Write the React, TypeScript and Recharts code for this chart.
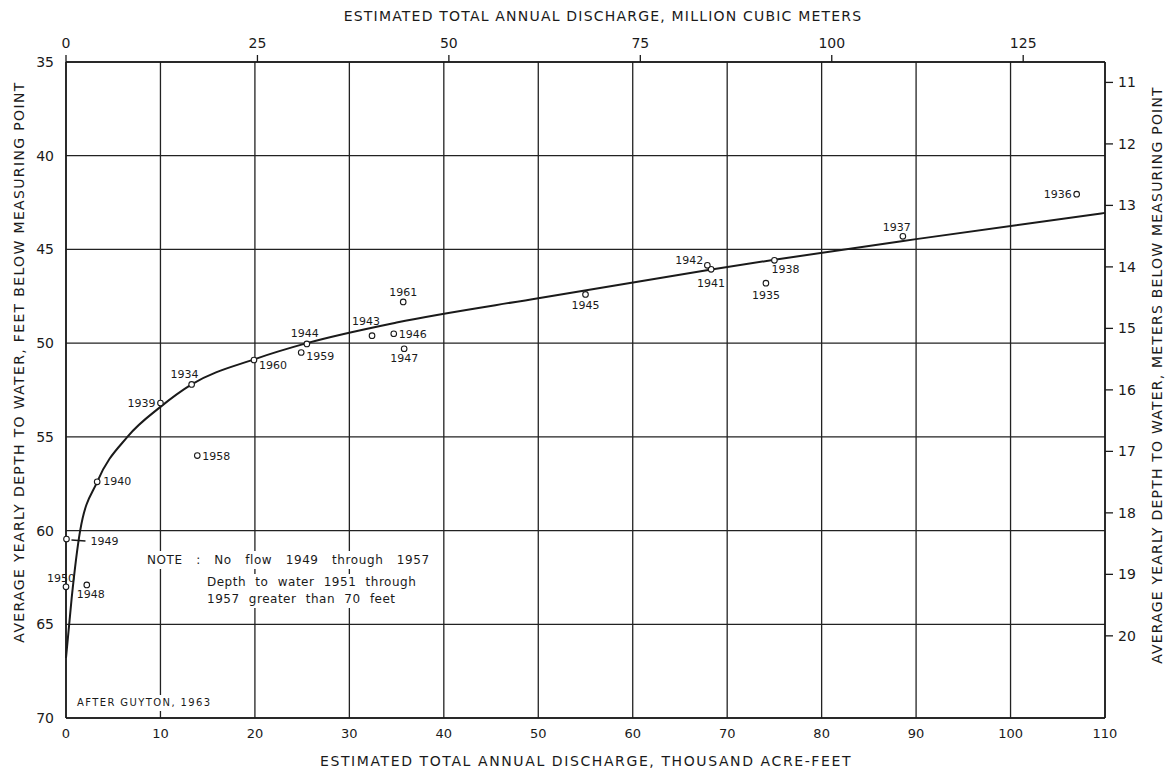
import React from 'react';
import { ScatterChart, Scatter, XAxis, YAxis, CartesianGrid } from 'recharts';

// thousand acre-feet -> million m3, feet -> meters
const KAF_TO_MCM = 1.23348;
const FT_PER_M = 3.28084;

const YEARS = [1934, 1935, 1936, 1937, 1938, 1939, 1940, 1941, 1942, 1943, 1944, 1945, 1946, 1947, 1948, 1949, 1950, 1958, 1959, 1960, 1961];
const DISCHARGE = [13.3, 74.1, 107.0, 88.6, 75.0, 10.0, 3.3, 68.3, 67.9, 32.4, 25.5, 55.0, 34.7, 35.8, 2.2, 0.05, 0.0, 13.9, 24.9, 19.9, 35.7];
const DEPTH = [52.2, 46.8, 42.05, 44.3, 45.58, 53.2, 57.4, 46.06, 45.85, 49.6, 50.04, 47.4, 49.5, 50.3, 62.9, 60.45, 63.0, 56.0, 50.5, 50.9, 47.8];

const CURVE_X = [0, 0.6, 1.5, 3.3, 6.5, 10, 13.3, 20, 25.5, 35, 50, 68, 75, 90, 110];
const CURVE_Y = [66.8, 63.6, 60.0, 57.4, 55.0, 53.4, 52.2, 50.85, 50.0, 48.9, 47.6, 46.1, 45.55, 44.45, 43.05];

const BOTTOM_TICKS = [0, 10, 20, 30, 40, 50, 60, 70, 80, 90, 100, 110];
const TOP_TICKS = [0, 25, 50, 75, 100, 125];
const FEET_TICKS = [35, 40, 45, 50, 55, 60, 65, 70];
const METER_TICKS = [11, 12, 13, 14, 15, 16, 17, 18, 19, 20];

// label placement around each point marker (px from circle centre)
const LABEL_OFFSET: Record<number, [number, number]> = {
  1934: [-7, -10], 1935: [0, 12], 1936: [-19, 0], 1937: [-6, -9], 1938: [11, 9],
  1939: [-19, 0], 1940: [20, 0], 1941: [0, 14], 1942: [-18, -5], 1943: [-6, -14],
  1944: [-2, -10], 1945: [0, 11], 1946: [19, 1], 1947: [0, 10], 1948: [4, 10],
  1949: [38, 2], 1950: [-5, -8], 1958: [19, 1], 1959: [19, 4], 1960: [19, 5], 1961: [0, -9],
};

const points = YEARS.map((year, i) => ({ year, x: DISCHARGE[i], y: DEPTH[i] }));
const curve = CURVE_X.map((x, i) => ({ x, y: CURVE_Y[i] }));
// same observations in metric units, only used to hook up the top / right axes
const metricPoints = YEARS.map((year, i) => ({ year, x: DISCHARGE[i] * KAF_TO_MCM, y: DEPTH[i] / FT_PER_M }));

const FONT = '"DejaVu Sans", sans-serif';
const INK = '#1a1a1a';

const PointMark = (props: any) => {
  const { cx, cy, payload } = props;
  const [dx, dy] = LABEL_OFFSET[payload.year] || [0, -10];
  return (
    <g>
      {payload.year === 1949 && (
        <line x1={cx + 5} y1={cy + 1} x2={cx + 19} y2={cy + 2} stroke={INK} strokeWidth={1.4} />
      )}
      <circle cx={cx} cy={cy} r={2.8} fill="#fff" stroke={INK} strokeWidth={1.1} />
      <text
        x={cx + dx}
        y={cy + dy}
        textAnchor="middle"
        dominantBaseline="central"
        fontSize={11}
        fontFamily={FONT}
        fill={INK}
      >
        {payload.year}
      </text>
    </g>
  );
};

const NoMark = () => <g />;

const titleStyle: React.CSSProperties = {
  position: 'absolute',
  fontFamily: FONT,
  fontSize: 14,
  color: INK,
  whiteSpace: 'nowrap',
};

const boxText: React.CSSProperties = {
  position: 'absolute',
  fontFamily: FONT,
  fontSize: 12,
  color: INK,
  background: '#fff',
  whiteSpace: 'nowrap',
  padding: '0 2px',
};

export default function App() {
  return (
    <div style={{ position: 'absolute', left: 0, top: 0, width: 1167, height: 769, background: '#fff' }}>
      <ScatterChart width={1167} height={769} margin={{ top: 32, right: 12, bottom: 21, left: 16 }}>
        <CartesianGrid xAxisId="bottom" yAxisId="left" stroke="#222" strokeWidth={1.3} />
        <XAxis
          xAxisId="bottom"
          dataKey="x"
          type="number"
          orientation="bottom"
          domain={[0, 110]}
          ticks={BOTTOM_TICKS}
          height={30}
          tickLine={false}
          tickMargin={5}
          axisLine={{ stroke: INK, strokeWidth: 1.6 }}
          tick={{ fontSize: 13, fontFamily: FONT, fill: INK }}
        />
        <XAxis
          xAxisId="top"
          dataKey="x"
          type="number"
          orientation="top"
          domain={[0, 110 * KAF_TO_MCM]}
          ticks={TOP_TICKS}
          height={30}
          tickSize={7}
          tickMargin={7}
          tickLine={{ stroke: INK, strokeWidth: 1.3 }}
          axisLine={{ stroke: INK, strokeWidth: 1.6 }}
          tick={{ fontSize: 14, fontFamily: FONT, fill: INK }}
        />
        <YAxis
          yAxisId="left"
          dataKey="y"
          type="number"
          domain={[35, 70]}
          ticks={FEET_TICKS}
          reversed
          width={50}
          tickLine={false}
          tickMargin={6}
          axisLine={{ stroke: INK, strokeWidth: 1.6 }}
          tick={{ fontSize: 14, fontFamily: FONT, fill: INK }}
        />
        <YAxis
          yAxisId="right"
          dataKey="y"
          type="number"
          orientation="right"
          domain={[35 / FT_PER_M, 70 / FT_PER_M]}
          ticks={METER_TICKS}
          reversed
          width={50}
          tickSize={8}
          tickMargin={5}
          tickLine={{ stroke: INK, strokeWidth: 1.3 }}
          axisLine={{ stroke: INK, strokeWidth: 1.6 }}
          tick={{ fontSize: 14, fontFamily: FONT, fill: INK }}
        />
        <Scatter
          xAxisId="top"
          yAxisId="right"
          data={metricPoints}
          shape={NoMark}
          isAnimationActive={false}
        />
        <Scatter
          xAxisId="bottom"
          yAxisId="left"
          data={curve}
          line={{ stroke: INK, strokeWidth: 2 }}
          lineType="joint"
          lineJointType="monotoneX"
          shape={NoMark}
          isAnimationActive={false}
        />
        <Scatter
          xAxisId="bottom"
          yAxisId="left"
          data={points}
          shape={PointMark}
          isAnimationActive={false}
        />
      </ScatterChart>

      <div style={{ ...titleStyle, letterSpacing: 1.2, left: 603, top: 16, transform: 'translate(-50%, -50%)' }}>
        ESTIMATED TOTAL ANNUAL DISCHARGE, MILLION CUBIC METERS
      </div>
      <div style={{ ...titleStyle, letterSpacing: 1.6, left: 586, top: 761, transform: 'translate(-50%, -50%)' }}>
        ESTIMATED TOTAL ANNUAL DISCHARGE, THOUSAND ACRE-FEET
      </div>
      <div style={{ ...titleStyle, letterSpacing: 1.35, left: 19, top: 362, transform: 'translate(-50%, -50%) rotate(-90deg)' }}>
        AVERAGE YEARLY DEPTH TO WATER, FEET BELOW MEASURING POINT
      </div>
      <div style={{ ...titleStyle, letterSpacing: 1.2, left: 1157, top: 375, transform: 'translate(-50%, -50%) rotate(-90deg)' }}>
        AVERAGE YEARLY DEPTH TO WATER, METERS BELOW MEASURING POINT
      </div>

      <div style={{ ...boxText, left: 145, top: 551, lineHeight: '18px', wordSpacing: 9, letterSpacing: 0.6 }}>
        NOTE :&nbsp;No flow 1949 through 1957
      </div>
      <div style={{ ...boxText, left: 205, top: 574, lineHeight: '17px', wordSpacing: 5, letterSpacing: 0.5 }}>
        <div>Depth to water 1951 through</div>
        <div>1957 greater than 70 feet</div>
      </div>
      <div style={{ ...boxText, left: 75, top: 695, fontSize: 10, lineHeight: '16px', letterSpacing: 1.4 }}>
        AFTER GUYTON, 1963
      </div>
    </div>
  );
}
